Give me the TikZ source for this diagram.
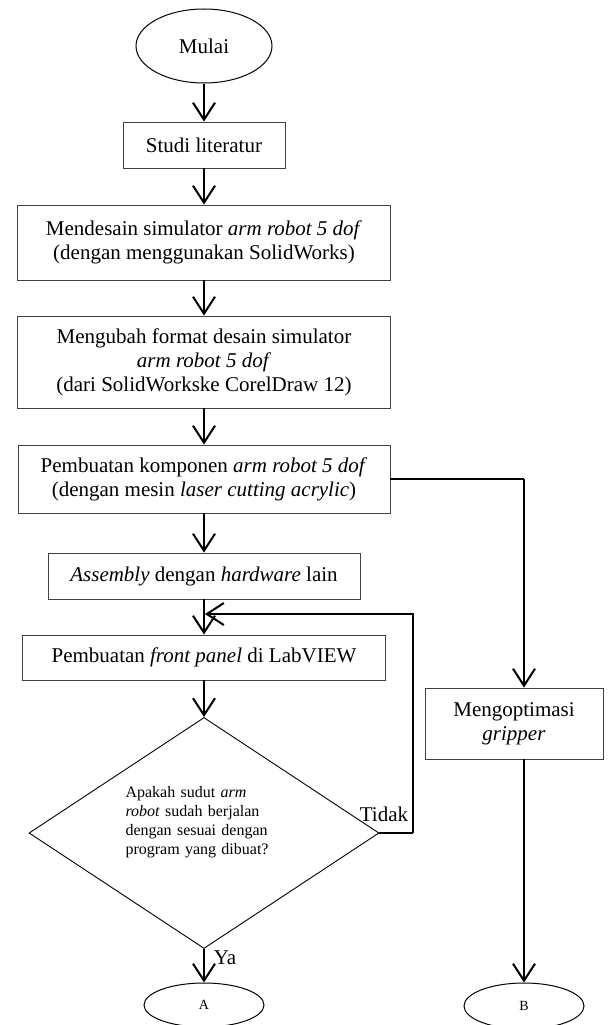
\documentclass[tikz,border=0pt]{standalone}
\usepackage{fontspec}
\setmainfont{Liberation Serif}
\usetikzlibrary{shapes.geometric,arrows.meta}
\begin{document}
\begin{tikzpicture}[x=1pt,y=-1pt,
  box/.style={draw=black!75, line width=0.9pt, rectangle, inner sep=0pt, align=center, font=\fontsize{21}{24}\selectfont},
  term/.style={draw=black, line width=1pt, ellipse, inner sep=0pt},
  arr/.style={line width=2pt, -{Straight Barb[length=17pt,width=22pt,line width=2pt]}},
  thinline/.style={line width=1.1pt},
  lbl/.style={inner sep=0pt, font=\fontsize{21}{24}\selectfont}]
\useasboundingbox (0,0) rectangle (610,1025);
\node[term, minimum width=136, minimum height=74, font=\fontsize{21}{24}\selectfont] (mulai) at (204,46) {Mulai};
\node[box, minimum width=162, minimum height=46] (studi) at (204,145) {Studi literatur};
\node[box, minimum width=373, minimum height=75] (desain) at (204,242.5) {Mendesain simulator \textit{arm robot 5 dof}\\(dengan menggunakan SolidWorks)};
\node[box, minimum width=373, minimum height=92] (ubah) at (204,362) {Mengubah format desain simulator\\\textit{arm robot 5 dof}\\(dari SolidWorkske CorelDraw 12)};
\node[box, minimum width=372, minimum height=68] (komp) at (204,479) {Pembuatan komponen \textit{arm robot 5 dof}\\(dengan mesin \textit{laser cutting acrylic})};
\node[box, minimum width=312, minimum height=46] (asm) at (204,576) {\textit{Assembly} dengan \textit{hardware} lain};
\node[box, minimum width=363, minimum height=45] (panel) at (204,657.5) {Pembuatan \textit{front panel} di LabVIEW};
\node[draw=black, line width=0.9pt, diamond, inner sep=0pt, minimum width=350, minimum height=231] (dia) at (204,833) {};
\node[inner sep=0pt, text width=145, align=left, font=\fontsize{16}{19}\selectfont] (qtext) at (198,822) {Apakah sudut \textit{arm}\\\textit{robot} sudah berjalan\\dengan sesuai dengan\\program yang dibuat?};
\node[term, minimum width=120, minimum height=44, font=\fontsize{14}{16}\selectfont] (A) at (204,1005) {A};
\node[box, minimum width=178, minimum height=71] (opt) at (514,723.5) {Mengoptimasi\\\textit{gripper}};
\node[term, minimum width=120, minimum height=46, font=\fontsize{14}{16}\selectfont] (B) at (524,1006) {B};
\node[lbl] (tidak) at (384,814) {Tidak};
\node[lbl] (ya) at (225,958) {Ya};
\coordinate (fbcorner) at (413,614);
\coordinate (fbtip) at (205,614);
\draw[arr] (mulai) -- (studi);
\draw[arr] (studi) -- (desain);
\draw[arr] (desain) -- (ubah);
\draw[arr] (ubah) -- (komp);
\draw[arr] (komp) -- (asm);
\draw[arr] (asm) -- (panel);
\draw[arr] (panel) -- (dia);
\draw[arr] (dia.south) -- (A.north);
\draw[thinline] (dia.east) -- (dia.east -| fbcorner);
\draw[arr] (dia.east -| fbcorner) -- (fbcorner) -- (fbtip);
\draw[thinline] (komp.east) -- (komp.east -| B.north);
\draw[arr] (komp.east -| B.north) -- (opt.north -| B.north);
\draw[arr] (opt.south -| B.north) -- (B.north);
\end{tikzpicture}
\end{document}
